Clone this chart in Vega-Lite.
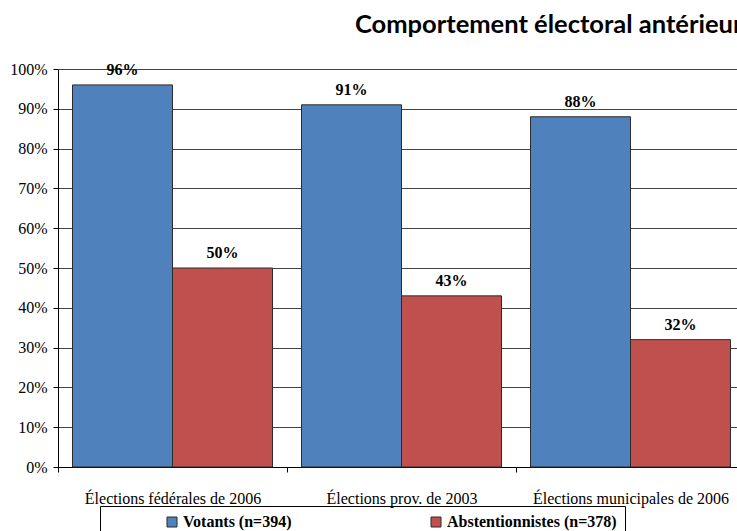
{
  "$schema": "https://vega.github.io/schema/vega-lite/v6.json",
  "autosize": {"type": "none"},
  "padding": {"left": 58, "top": 69, "right": 0, "bottom": 64},
  "width": 687,
  "height": 398,
  "background": "white",
  "title": {
    "text": "Comportement électoral antérieur",
    "anchor": "start",
    "frame": "group",
    "dx": 297,
    "offset": 3,
    "baseline": "alphabetic",
    "font": "Lato",
    "fontSize": 25.5,
    "fontWeight": "bold",
    "color": "black"
  },
  "data": {
    "values": [
      {"election": "Élections fédérales de 2006", "groupe": "Votants (n=394)", "part": 0.96},
      {"election": "Élections fédérales de 2006", "groupe": "Abstentionnistes (n=378)", "part": 0.50},
      {"election": "Élections prov. de 2003", "groupe": "Votants (n=394)", "part": 0.91},
      {"election": "Élections prov. de 2003", "groupe": "Abstentionnistes (n=378)", "part": 0.43},
      {"election": "Élections municipales de 2006", "groupe": "Votants (n=394)", "part": 0.88},
      {"election": "Élections municipales de 2006", "groupe": "Abstentionnistes (n=378)", "part": 0.32}
    ]
  },
  "encoding": {
    "x": {
      "field": "election",
      "type": "nominal",
      "sort": ["Élections fédérales de 2006", "Élections prov. de 2003", "Élections municipales de 2006"],
      "scale": {"paddingInner": 0, "paddingOuter": 0},
      "axis": {
        "title": null,
        "labelAngle": 0,
        "labelFont": "Liberation Serif",
        "labelFontSize": 16,
        "labelColor": "black",
        "labelPadding": 18,
        "labelLimit": 400,
        "tickBand": "extent",
        "tickSize": 5,
        "tickColor": "black",
        "domainColor": "black",
        "grid": false
      }
    },
    "xOffset": {
      "field": "groupe",
      "type": "nominal",
      "sort": ["Votants (n=394)", "Abstentionnistes (n=378)"],
      "scale": {"paddingInner": 0, "paddingOuter": 0.145}
    },
    "y": {
      "field": "part",
      "type": "quantitative",
      "scale": {"domain": [0, 1], "nice": false},
      "axis": {
        "title": null,
        "format": ".0%",
        "values": [0, 0.1, 0.2, 0.3, 0.4, 0.5, 0.6, 0.7, 0.8, 0.9, 1],
        "labelFont": "Liberation Serif",
        "labelFontSize": 16,
        "labelColor": "black",
        "labelPadding": 6,
        "tickSize": 5,
        "tickColor": "black",
        "domainColor": "black",
        "gridColor": "#444444",
        "gridWidth": 1
      }
    }
  },
  "layer": [
    {
      "mark": {"type": "bar", "stroke": "#2b2b2b", "strokeWidth": 1},
      "encoding": {
        "color": {
          "field": "groupe",
          "type": "nominal",
          "sort": ["Votants (n=394)", "Abstentionnistes (n=378)"],
          "scale": {"range": ["#4F81BD", "#C0504D"]},
          "legend": {
            "title": null,
            "orient": "none",
            "legendX": 42,
            "legendY": 437,
            "direction": "horizontal",
            "columns": 2,
            "strokeColor": "black",
            "padding": 8,
            "symbolType": "square",
            "symbolSize": 100,
            "symbolStrokeColor": "#2b2b2b",
            "symbolStrokeWidth": 1,
            "symbolOffset": 56,
            "columnPadding": 80,
            "labelOffset": 3,
            "labelFont": "Liberation Serif",
            "labelFontSize": 16,
            "labelFontWeight": "bold",
            "labelColor": "black",
            "labelLimit": 400
          }
        }
      }
    },
    {
      "mark": {
        "type": "text",
        "baseline": "alphabetic",
        "dy": -10,
        "font": "Liberation Serif",
        "fontSize": 16,
        "fontWeight": "bold",
        "color": "black"
      },
      "encoding": {
        "text": {"field": "part", "type": "quantitative", "format": ".0%"}
      }
    }
  ],
  "config": {
    "view": {"stroke": null}
  }
}
